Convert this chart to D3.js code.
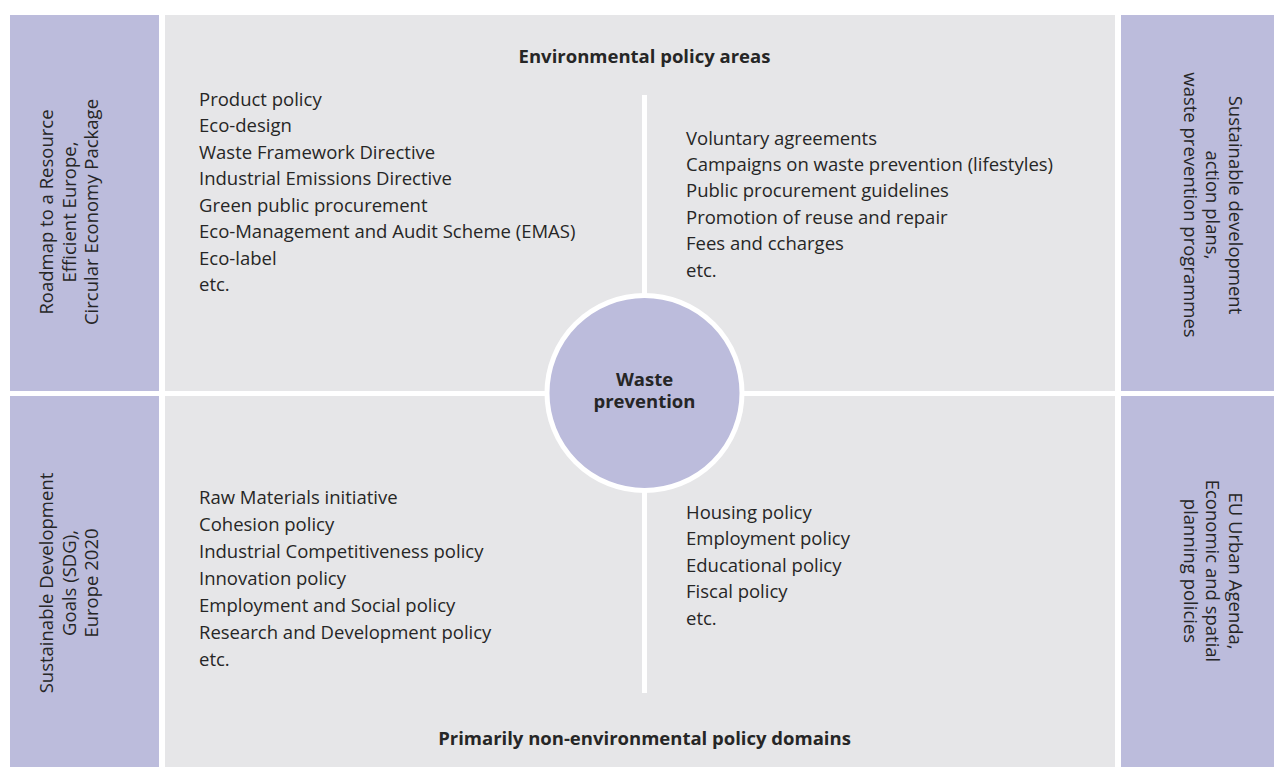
<!DOCTYPE html>
<html lang="en">
<head>
    <meta charset="UTF-8">
    <script src="https://d3js.org/d3.v7.min.js"></script>
    <title>Waste prevention policy framework</title>
    <style>
        body {
            margin: 0;
            background-color: #ffffff;
            font-family: "Open Sans", Arial, sans-serif;
        }
        svg text {
            fill: #262626;
            font-size: 18.5px;
        }
    </style>
</head>
<body>
    <div id="chart"></div>
    <script>
        const width = 1274;
        const height = 767;

        // text content
        const topTitle = "Environmental policy areas";
        const bottomTitle = "Primarily non-environmental policy domains";
        const centreLabel = ["Waste", "prevention"];

        const topLeftItems = [
            "Product policy", "Eco-design", "Waste Framework Directive",
            "Industrial Emissions Directive", "Green public procurement",
            "Eco-Management and Audit Scheme (EMAS)", "Eco-label", "etc."
        ];
        const topRightItems = [
            "Voluntary agreements", "Campaigns on waste prevention (lifestyles)",
            "Public procurement guidelines", "Promotion of reuse and repair",
            "Fees and ccharges", "etc."
        ];
        const bottomLeftItems = [
            "Raw Materials initiative", "Cohesion policy",
            "Industrial Competitiveness policy", "Innovation policy",
            "Employment and Social policy", "Research and Development policy", "etc."
        ];
        const bottomRightItems = [
            "Housing policy", "Employment policy", "Educational policy",
            "Fiscal policy", "etc."
        ];

        const sideTopLeft = ["Roadmap to a Resource", "Efficient Europe,", "Circular Economy Package"];
        const sideBottomLeft = ["Sustainable Development", "Goals (SDG),", "Europe 2020"];
        const sideTopRight = ["Sustainable development", "action plans,", "waste prevention programmes"];
        const sideBottomRight = ["EU Urban Agenda,", "Economic and spatial", "planning policies"];

        const purple = "#bcbcdc";
        const grey = "#e6e6e8";

        const svg = d3.select("#chart").append("svg")
            .attr("width", width)
            .attr("height", height);

        // layout scales
        const x = d3.scaleLinear().domain([0, width]).range([0, width]);
        const rowY = d3.scaleOrdinal().domain(["top", "bottom"]).range([[15, 391], [396, height]]);

        const panels = [
            { x0: 10, x1: 159, row: "top", fill: purple },
            { x0: 165, x1: 1115, row: "top", fill: grey },
            { x0: 1121, x1: width, row: "top", fill: purple },
            { x0: 10, x1: 159, row: "bottom", fill: purple },
            { x0: 165, x1: 1115, row: "bottom", fill: grey },
            { x0: 1121, x1: width, row: "bottom", fill: purple }
        ];

        svg.selectAll("rect.panel")
            .data(panels)
            .join("rect")
            .attr("class", "panel")
            .attr("x", d => x(d.x0))
            .attr("y", d => rowY(d.row)[0])
            .attr("width", d => x(d.x1) - x(d.x0))
            .attr("height", d => rowY(d.row)[1] - rowY(d.row)[0])
            .attr("fill", d => d.fill);

        const cx = 644.5, cy = 393;

        // vertical divider
        svg.append("line")
            .attr("x1", cx).attr("x2", cx)
            .attr("y1", 95).attr("y2", 693)
            .attr("stroke", "#fff")
            .attr("stroke-width", 5);

        // centre circle
        svg.append("circle")
            .attr("cx", cx)
            .attr("cy", cy)
            .attr("r", 97.5)
            .attr("fill", purple)
            .attr("stroke", "#fff")
            .attr("stroke-width", 5);

        svg.append("text")
            .attr("x", cx)
            .attr("text-anchor", "middle")
            .style("font-weight", "bold")
            .selectAll("tspan")
            .data(centreLabel)
            .join("tspan")
            .attr("x", cx)
            .attr("y", (d, i) => 386 + i * 22)
            .text(d => d);

        // titles
        svg.append("text")
            .attr("x", cx).attr("y", 63)
            .attr("text-anchor", "middle")
            .style("font-weight", "bold")
            .text(topTitle);

        svg.append("text")
            .attr("x", cx).attr("y", 745)
            .attr("text-anchor", "middle")
            .style("font-weight", "bold")
            .text(bottomTitle);

        // lists
        const drawList = (items, left, firstBaseline, step) => {
            const y = d3.scaleLinear().domain([0, 1]).range([firstBaseline, firstBaseline + step]);
            svg.append("g")
                .selectAll("text")
                .data(items)
                .join("text")
                .attr("x", left)
                .attr("y", (d, i) => y(i))
                .text(d => d);
        };

        drawList(topLeftItems, 199, 105.5, 26.5);
        drawList(topRightItems, 686, 144.5, 26.4);
        drawList(bottomLeftItems, 199, 503.5, 27);
        drawList(bottomRightItems, 686, 518.5, 26.5);

        // rotated side labels
        const drawSide = (lines, px, py, angle) => {
            const g = svg.append("g")
                .attr("transform", `translate(${px},${py}) rotate(${angle})`);
            const offset = d3.scaleLinear().domain([0, lines.length - 1]).range([-22.5, 22.5]);
            g.selectAll("text")
                .data(lines)
                .join("text")
                .attr("x", 0)
                .attr("y", (d, i) => offset(i))
                .attr("dy", "0.35em")
                .attr("text-anchor", "middle")
                .text(d => d);
        };

        drawSide(sideTopLeft, 69.5, 212, -90);
        drawSide(sideBottomLeft, 69.5, 583, -90);
        drawSide(sideTopRight, 1212.5, 205, 90);
        drawSide(sideBottomRight, 1212.5, 571, 90);
    </script>
</body>
</html>
